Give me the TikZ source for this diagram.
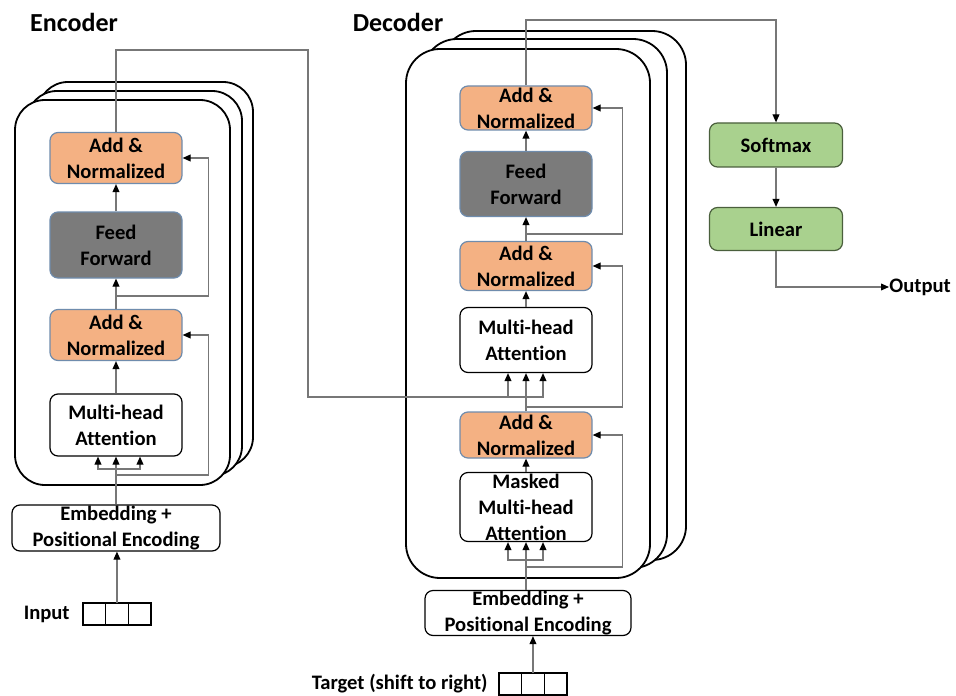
\documentclass[tikz,border=0pt]{standalone}
\usepackage{fontspec}
\setmainfont[Ligatures=NoCommon]{Carlito}
\usetikzlibrary{arrows.meta,positioning}

\definecolor{addcol}{HTML}{F4B183}
\definecolor{ffcol}{HTML}{7B7B7B}
\definecolor{outcol}{HTML}{A9D18E}
\definecolor{edgecol}{HTML}{6F8CAD}
\definecolor{greenedge}{HTML}{4A5F3C}
\definecolor{linkcol}{HTML}{777777}

\tikzset{
  blk/.style={rectangle, rounded corners=4pt, minimum width=66pt, align=center,
    inner xsep=1pt, inner ysep=0pt, line width=0.6pt,
    font=\fontsize{10.3}{13}\selectfont\bfseries},
  addnorm/.style={blk, fill=addcol, draw=edgecol},
  ffwd/.style={blk, fill=ffcol, draw=edgecol},
  attn/.style={blk, fill=white, draw=black},
  embed/.style={blk, fill=white, draw=black, minimum width=104pt, minimum height=23pt},
  headblk/.style={blk, fill=outcol, draw=greenedge, minimum height=22pt},
  cell/.style={draw=black, line width=0.6pt, minimum width=11.33pt,
    minimum height=11pt, inner sep=0pt, outer sep=0pt},
  layer/.style={draw=black, fill=white, line width=0.9pt},
  ttl/.style={font=\fontsize{13}{15}\selectfont\bfseries, inner sep=0pt},
  lbl/.style={font=\fontsize{10.3}{13}\selectfont\bfseries, inner sep=0pt},
  link/.style={draw=linkcol, line width=0.6pt},
  >={Triangle[length=4pt,width=3.4pt,color=black]}
}

\begin{document}
\begin{tikzpicture}[x=0.5pt, y=-0.5pt]
\useasboundingbox (0,0) rectangle (956,695);

\node[ttl] (enc_t) at (74,22) {Encoder};
\node[ttl] (dec_t) at (398,22) {Decoder};

% stacked layers, back to front
\foreach \dx/\dy in {23/-18, 12/-9, 0/0}
  \draw[layer, rounded corners=15pt, shift={(\dx,\dy)}] (15,100) rectangle (230,485);
\foreach \dx/\dy in {36/-18, 17/-10, 0/0}
  \draw[layer, rounded corners=17pt, shift={(\dx,\dy)}] (406,49) rectangle (650,578);

% encoder
\node[addnorm, minimum height=25.5pt] (an_e2) at (116,158) {Add \&\\Normalized};
\node[ffwd, minimum height=33pt] (ff_e) at (116,245) {Feed\\Forward};
\node[addnorm, minimum height=25.5pt] (an_e1) at (116,335) {Add \&\\Normalized};
\node[attn, minimum height=31pt] (mha_e) at (116,425) {Multi-head\\Attention};
\node[embed] (emb_e) at (116,528) {Embedding +\\Positional Encoding};
\node[cell] (ic1) at (94.3,614) {};
\node[cell, right=0pt of ic1] (ic2) {};
\node[cell, right=0pt of ic2] (ic3) {};
\node[lbl, left=6.5pt of ic1] (in_l) {Input};

% decoder
\node[addnorm, minimum height=22pt] (an_d3) at (526,108) {Add \&\\Normalized};
\node[ffwd, minimum height=32.5pt] (ff_d) at (526,184) {Feed\\Forward};
\node[addnorm, minimum height=24.5pt] (an_d2) at (526,266) {Add \&\\Normalized};
\node[attn, minimum height=32.5pt] (mha_d) at (526,340) {Multi-head\\Attention};
\node[addnorm, minimum height=23pt] (an_d1) at (526,435) {Add \&\\Normalized};
\node[attn, minimum height=34.5pt] (mmha_d) at (526,507) {Masked\\Multi-head\\Attention};
\node[embed, minimum width=103pt, minimum height=22.5pt] (emb_d) at (528,613) {Embedding +\\Positional Encoding};
\node[cell] (tc1) at (510.3,684) {};
\node[cell, right=0pt of tc1] (tc2) {};
\node[cell, right=0pt of tc2] (tc3) {};
\node[lbl, left=5.5pt of tc1] (tgt_l) {Target (shift to right)};

% output head
\node[headblk, minimum width=66.5pt] (soft) at (776,145) {Softmax};
\node[headblk, minimum width=66.5pt, minimum height=21.5pt] (lin) at (776,229) {Linear};
\node[lbl, anchor=west] (out_l) at (889,287) {Output};

\coordinate (e_fork) at (116,469);
\coordinate (e_res1) at (116,475);
\coordinate (e_res2) at (116,296);
\coordinate (e_top) at (116,50);
\coordinate (e_bend) at (308,397);
\coordinate (d_fork) at (526,560);
\coordinate (d_res1) at (526,567);
\coordinate (d_res2) at (526,407);
\coordinate (d_res3) at (526,234);
\coordinate (d_top) at (526,20);
\coordinate (l_bend) at (776,287);

% encoder links
\draw[link,->] (ic2.north) -- (ic2.north |- emb_e.south);
\draw[link,->] (emb_e.north) -- (mha_e.south);
\draw[link,->] (e_fork) -| ([xshift=-9pt]mha_e.south);
\draw[link,->] (e_fork) -| ([xshift=12pt]mha_e.south);
\draw[link,->] (mha_e) -- (an_e1);
\draw[link,->] (an_e1) -- (ff_e);
\draw[link,->] (ff_e) -- (an_e2);
\draw[link,->] (e_res1) -| ([xshift=13pt]an_e1.east) -- (an_e1.east);
\draw[link,->] (e_res2) -| ([xshift=13pt]an_e2.east) -- (an_e2.east);

% encoder output into the decoder attention
\draw[link,->] (an_e2.north) -- (e_top) -| (e_bend) -| ([xshift=8.5pt]mha_d.south);
\draw[link,->] ([xshift=-9pt]mha_d.south |- e_bend) -- ([xshift=-9pt]mha_d.south);

% decoder links
\draw[link,->] (tc2.north) -- (tc2.north |- emb_d.south);
\draw[link,->] (mmha_d.south |- emb_d.north) -- (mmha_d.south);
\draw[link,->] (d_fork) -| ([xshift=-9pt]mmha_d.south);
\draw[link,->] (d_fork) -| ([xshift=8.5pt]mmha_d.south);
\draw[link,->] (mmha_d) -- (an_d1);
\draw[link,->] (d_res1) -| ([xshift=15pt]an_d1.east) -- (an_d1.east);
\draw[link,->] (an_d1) -- (mha_d);
\draw[link,->] (d_res2) -| ([xshift=15pt]an_d2.east) -- (an_d2.east);
\draw[link,->] (mha_d) -- (an_d2);
\draw[link,->] (an_d2) -- (ff_d);
\draw[link,->] (d_res3) -| ([xshift=15pt]an_d3.east) -- (an_d3.east);
\draw[link,->] (ff_d) -- (an_d3);

% head
\draw[link,->] (an_d3.north) -- (d_top) -| (soft.north);
\draw[link,->] (soft) -- (lin);
\draw[link,->] (lin.south) -- (l_bend) -- (out_l.west);
\end{tikzpicture}
\end{document}
